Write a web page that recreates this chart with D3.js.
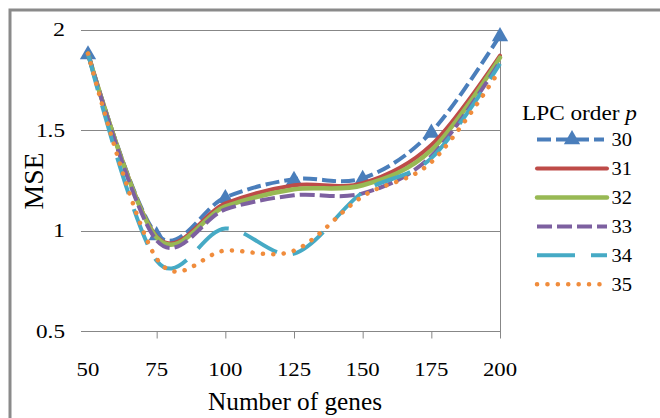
<!DOCTYPE html>
<html>
<head>
<meta charset="utf-8">
<script src="https://cdn.jsdelivr.net/npm/d3@7"></script>
<style>
  html, body { margin: 0; padding: 0; background: #fff; }
  svg { display: block; }
  text { font-family: "Liberation Serif", "Times New Roman", serif; fill: #000; }
</style>
</head>
<body>
<svg id="chart" width="660" height="418"></svg>
<script>
// ---- data ----
const genes = [50, 75, 100, 125, 150, 175, 200];
const order30 = [1.88, 0.98, 1.165, 1.255, 1.26, 1.49, 1.97];
const order31 = [1.88, 0.97, 1.135, 1.225, 1.235, 1.425, 1.87];
const order32 = [1.88, 0.965, 1.12, 1.205, 1.225, 1.40, 1.86];
const order33 = [1.88, 0.95, 1.105, 1.175, 1.185, 1.37, 1.84];
const order34 = [1.88, 0.85, 1.01, 0.885, 1.19, 1.36, 1.83];
const order35 = [1.88, 0.86, 0.90, 0.90, 1.17, 1.34, 1.80];
const seriesNames = ["30", "31", "32", "33", "34", "35"];
const xTicks = [50, 75, 100, 125, 150, 175, 200];
const yTicks = [0.5, 1, 1.5, 2];

const seriesValues = [order30, order31, order32, order33, order34, order35];
const styles = [
  { color: "#4a7ebb", dash: "14,5", width: 4, cap: "butt", marker: true },
  { color: "#be4b48", dash: null, width: 4, cap: "round" },
  { color: "#98b954", dash: null, width: 4.5, cap: "round" },
  { color: "#7d60a0", dash: "15,5", width: 4, cap: "butt" },
  { color: "#46aac5", dash: "38,16", width: 4, cap: "butt" },
  { color: "#f08c3c", dash: "0.1,10.3", width: 4.5, cap: "round" }
];

const svg = d3.select("#chart");

// outer frame (cropped)
svg.append("rect").attr("x", 10).attr("y", 10).attr("width", 700).attr("height", 450)
  .attr("fill", "none").attr("stroke", "#8a8a8a").attr("stroke-width", 3);

const x = d3.scaleLinear().domain([47.45, 200]).range([81, 500]);
const y = d3.scaleLinear().domain([0.5, 2]).range([331, 29.5]);

// gridlines
const grid = svg.append("g");
grid.selectAll("line").data(yTicks.filter(d => d > 0.5)).join("line")
  .attr("x1", x.range()[0]).attr("x2", x.range()[1])
  .attr("y1", d => Math.round(y(d)) + 0.5).attr("y2", d => Math.round(y(d)) + 0.5)
  .attr("stroke", "#878787").attr("stroke-width", 1);

// x axis
const xAxis = d3.axisBottom(x).tickValues(xTicks).tickSize(7).tickFormat("");
const gx = svg.append("g").attr("transform", `translate(0,${Math.round(y(0.5)) + 0.5})`).call(xAxis);
gx.select(".domain").attr("stroke", "#878787").attr("d", `M${x.range()[0]},0H${x.range()[1]}`);
gx.selectAll(".tick line").attr("stroke", "#878787");
gx.selectAll(".tick").filter(d => d === 50).select("line").remove();

// right vertical line
svg.append("line")
  .attr("x1", Math.round(x(200)) + 0.5).attr("x2", Math.round(x(200)) + 0.5)
  .attr("y1", y(2)).attr("y2", y(0.5) + 7)
  .attr("stroke", "#878787").attr("stroke-width", 1);

// x tick labels
svg.append("g").selectAll("text").data(xTicks).join("text")
  .attr("x", d => x(d)).attr("y", 376)
  .attr("text-anchor", "middle").attr("font-size", 19.5)
  .attr("textLength", d => String(d).length * 11.4).attr("lengthAdjust", "spacingAndGlyphs")
  .text(d => d);

// y tick labels
svg.append("g").selectAll("text").data(yTicks).join("text")
  .attr("x", 65).attr("y", d => y(d) + 6.8)
  .attr("text-anchor", "end").attr("font-size", 19.5)
  .attr("textLength", d => (String(d).length === 1 ? 12 : 29)).attr("lengthAdjust", "spacingAndGlyphs")
  .text(d => d);

// axis titles
svg.append("text").attr("transform", "translate(43,181) rotate(-90)")
  .attr("text-anchor", "middle").attr("font-size", 28)
  .attr("textLength", 57).attr("lengthAdjust", "spacingAndGlyphs").text("MSE");
svg.append("text").attr("x", 295).attr("y", 410)
  .attr("text-anchor", "middle").attr("font-size", 26)
  .attr("textLength", 174).attr("lengthAdjust", "spacingAndGlyphs").text("Number of genes");

// lines
const line = d3.line().x(d => x(d[0])).y(d => y(d[1])).curve(d3.curveCatmullRom.alpha(0));
const tri = d3.symbol().type(d3.symbolTriangle).size(115);

seriesValues.forEach((vals, i) => {
  const st = styles[i];
  const pts = genes.map((g, j) => [g, vals[j]]);
  const g = svg.append("g");
  g.append("path").attr("d", line(pts))
    .attr("fill", "none").attr("stroke", st.color).attr("stroke-width", st.width)
    .attr("stroke-dasharray", st.dash).attr("stroke-linecap", st.cap)
    .attr("stroke-linejoin", "round");
  if (st.marker) {
    g.selectAll("path.m").data(pts).join("path").attr("class", "m")
      .attr("d", tri).attr("transform", d => `translate(${x(d[0])},${y(d[1]) + 1})`)
      .attr("fill", st.color);
  }
});

// legend
const leg = svg.append("g");
const title = leg.append("text").attr("x", 522).attr("y", 119.5).attr("font-size", 20)
  .attr("textLength", 115).attr("lengthAdjust", "spacingAndGlyphs");
title.append("tspan").text("LPC order ");
title.append("tspan").attr("font-style", "italic").text("p");

const legY = d3.scalePoint().domain(seriesNames).range([139.5, 284.3]);
seriesNames.forEach((name, i) => {
  const st = styles[i];
  const cy = legY(name);
  leg.append("line").attr("x1", 537).attr("x2", i === 0 ? 604 : 607)
    .attr("y1", cy).attr("y2", cy)
    .attr("stroke", st.color).attr("stroke-width", st.width)
    .attr("stroke-dasharray", st.dash).attr("stroke-linecap", st.cap);
  if (st.marker) {
    leg.append("path").attr("d", tri).attr("transform", `translate(572,${cy})`).attr("fill", st.color);
  }
  leg.append("text").attr("x", 611.5).attr("y", cy + 6.7).attr("font-size", 18.5)
    .attr("textLength", 20.5).attr("lengthAdjust", "spacingAndGlyphs").text(name);
});
</script>
</body>
</html>
